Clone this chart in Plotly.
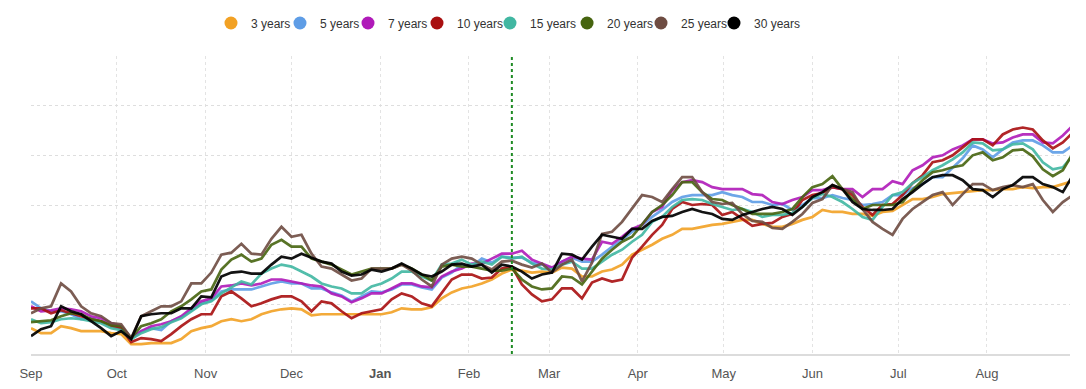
import pandas as pd
import plotly.graph_objects as go

# twice-weekly observation dates (Sep 2022 - Aug 2023)
dates = list(pd.date_range("2022-09-01", periods=105, freq="84h"))

series_names = ["3 years", "5 years", "7 years", "10 years", "15 years", "20 years", "25 years", "30 years"]
series_colors = ["#F2A124", "#5E9DE6", "#B01AB9", "#A90F10", "#41B7A2", "#46640F", "#6E4C42", "#000000"]

y3 = [26, 21, 21, 28, 26, 23, 23, 23, 21, 20, 10, 10, 11, 11, 11, 15, 23, 26, 28, 33, 35, 33, 35, 40, 43, 45,
      46, 45, 39, 40, 40, 40, 40, 40, 40, 40, 42, 46, 45, 45, 47, 56, 62, 66, 68, 71, 75, 81, 85, 84, 82, 83,
      82, 87, 86, 78, 78, 83, 85, 90, 100, 105, 110, 116, 120, 126, 126, 128, 130, 131, 133, 135, 135, 131, 128, 128, 131, 135,
      138, 145, 143, 143, 141, 141, 139, 143, 144, 150, 156, 156, 158, 161, 162, 163, 164, 165, 165, 166, 166, 168, 167, 168, 168, 171,
      174]
y5 = [53, 46, 43, 43, 40, 35, 36, 33, 28, 25, 15, 23, 26, 24, 33, 37, 44, 51, 54, 63, 65, 65, 65, 68, 71, 73,
      71, 71, 66, 66, 62, 59, 53, 58, 63, 62, 65, 70, 70, 67, 65, 77, 82, 90, 88, 96, 92, 98, 97, 97, 92, 90,
      86, 93, 97, 93, 93, 100, 108, 115, 123, 130, 138, 145, 153, 158, 160, 160, 160, 163, 160, 158, 153, 153, 150, 151, 145, 150,
      157, 157, 160, 157, 155, 150, 151, 153, 160, 160, 167, 171, 178, 178, 187, 197, 210, 206, 198, 206, 213, 215, 215, 210, 203, 203,
      210]
y7 = [48, 43, 44, 46, 45, 43, 38, 36, 31, 28, 16, 23, 28, 30, 33, 38, 46, 53, 56, 68, 69, 71, 69, 71, 75, 75,
      73, 71, 69, 68, 61, 58, 52, 56, 61, 61, 66, 71, 71, 68, 67, 78, 83, 86, 91, 91, 96, 101, 101, 104, 95, 91,
      87, 93, 98, 96, 95, 113, 111, 118, 126, 130, 143, 148, 165, 173, 175, 173, 168, 166, 166, 166, 161, 160, 153, 151, 155, 158,
      165, 165, 168, 166, 166, 158, 166, 166, 174, 171, 185, 190, 198, 200, 206, 210, 216, 216, 212, 213, 218, 221, 221, 213, 212, 220,
      230]
y10 = [46, 46, 41, 44, 41, 38, 35, 33, 28, 26, 12, 16, 15, 13, 20, 28, 35, 40, 40, 58, 63, 56, 48, 51, 55, 58,
       58, 53, 43, 53, 51, 43, 36, 41, 43, 45, 55, 61, 58, 51, 48, 61, 75, 80, 80, 76, 77, 86, 88, 70, 60, 53,
       55, 66, 66, 56, 72, 76, 73, 75, 97, 108, 120, 130, 146, 153, 150, 151, 150, 140, 143, 136, 129, 131, 132, 138, 141, 155,
       160, 162, 168, 166, 160, 148, 140, 150, 151, 160, 172, 180, 193, 195, 200, 208, 216, 216, 210, 221, 226, 228, 226, 215, 207, 213,
       223]
y15 = [35, 31, 32, 35, 36, 35, 33, 31, 26, 24, 15, 21, 25, 27, 32, 36, 43, 50, 53, 61, 67, 73, 70, 81, 86, 90,
       88, 83, 78, 71, 68, 66, 61, 61, 68, 71, 76, 83, 83, 78, 74, 90, 91, 95, 90, 93, 90, 98, 96, 98, 91, 86,
       85, 90, 93, 86, 86, 93, 100, 105, 113, 120, 133, 138, 148, 155, 156, 155, 151, 148, 145, 146, 143, 138, 140, 140, 142, 148,
       157, 161, 158, 153, 146, 138, 135, 148, 160, 163, 172, 178, 185, 190, 196, 203, 213, 212, 205, 206, 211, 212, 206, 193, 186, 188,
       200]
y20 = [32, 33, 34, 38, 41, 40, 35, 33, 29, 28, 16, 28, 31, 35, 43, 48, 55, 63, 65, 85, 95, 100, 93, 96, 110, 115,
       108, 108, 96, 93, 90, 85, 80, 83, 86, 86, 86, 90, 86, 80, 74, 88, 90, 88, 88, 86, 84, 84, 86, 75, 68, 65,
       66, 78, 77, 70, 83, 96, 105, 113, 118, 131, 143, 150, 160, 173, 173, 163, 156, 155, 150, 146, 141, 141, 141, 143, 146, 158,
       168, 171, 179, 166, 156, 146, 150, 150, 150, 153, 165, 175, 183, 185, 188, 190, 200, 203, 195, 198, 205, 206, 199, 186, 179, 185,
       202]
y25 = [41, 46, 48, 71, 63, 48, 41, 38, 31, 30, 16, 38, 43, 48, 48, 53, 71, 71, 82, 100, 102, 111, 101, 100, 116, 128,
       118, 120, 101, 88, 86, 80, 74, 76, 86, 86, 86, 90, 84, 75, 68, 90, 96, 98, 96, 90, 85, 93, 94, 90, 87, 91,
       82, 90, 95, 73, 92, 121, 123, 133, 147, 160, 158, 153, 166, 178, 178, 163, 153, 151, 152, 141, 134, 133, 127, 126, 133, 141,
       152, 156, 170, 166, 163, 146, 133, 126, 120, 136, 146, 153, 160, 163, 150, 161, 171, 171, 165, 168, 170, 168, 171, 155, 143, 153,
       160]
y30 = [18, 25, 28, 48, 43, 40, 33, 26, 18, 23, 15, 38, 40, 41, 41, 46, 46, 58, 57, 78, 82, 83, 81, 81, 90, 98,
       96, 101, 97, 93, 91, 83, 79, 80, 85, 83, 86, 91, 86, 80, 78, 83, 90, 91, 88, 90, 82, 90, 88, 83, 76, 80,
       82, 101, 100, 95, 108, 120, 118, 116, 126, 126, 134, 138, 139, 143, 146, 143, 141, 136, 135, 140, 143, 146, 148, 146, 140, 148,
       158, 163, 170, 166, 153, 146, 145, 145, 146, 156, 163, 171, 178, 180, 180, 175, 166, 165, 158, 166, 170, 178, 178, 171, 168, 163,
       180]

series_values = [y3, y5, y7, y10, y15, y20, y25, y30]

month_ticks = list(pd.date_range("2022-09-01", periods=12, freq="MS"))
month_labels = ["Sep", "Oct", "Nov", "Dec", "<b>Jan</b>", "Feb", "Mar", "Apr", "May", "Jun", "Jul", "Aug"]
marker_date = "2023-02-16"

# horizontal position (container fraction) of each legend entry
legend_x = [0.1883, 0.2523, 0.3154, 0.3794, 0.4471, 0.5186, 0.5872, 0.6549]

fig = go.Figure()
for name, color, vals in zip(series_names, series_colors, series_values):
    n = min(len(dates), len(vals))
    fig.add_trace(go.Scatter(x=dates[:n], y=vals[:n], mode="lines", name=name, legendgroup=name,
                             showlegend=False, line=dict(color=color, width=2.7),
                             opacity=0.9 if color != "#000000" else 0.92,
                             hovertemplate="%{x|%b %d}: %{y}<extra>" + name + "</extra>"))

legend_layout = {}
for i, (name, color) in enumerate(zip(series_names, series_colors)):
    key = "legend" if i == 0 else f"legend{i + 1}"
    fig.add_trace(go.Scatter(x=[None], y=[None], mode="markers", name=name, legendgroup=name,
                             legend=key, marker=dict(size=13, color=color, symbol="circle")))
    legend_layout[key] = dict(orientation="h", x=legend_x[i], xanchor="left", xref="container",
                              y=0.9606, yanchor="middle", yref="container", itemwidth=30,
                              bgcolor="rgba(0,0,0,0)", borderwidth=0,
                              font=dict(family="Liberation Sans, Arial, sans-serif", size=12, color="#333333"))

fig.add_shape(type="line", xref="x", yref="paper", x0=marker_date, x1=marker_date, y0=0, y1=1,
              line=dict(color="#1F8B24", width=2, dash="dot"))

fig.update_layout(
    width=1078, height=381,
    margin=dict(l=23, r=16, t=48, b=35, autoexpand=False),
    paper_bgcolor="white", plot_bgcolor="white",
    font=dict(family="Liberation Sans, Arial, sans-serif", size=12, color="#333333"),
    showlegend=True,
    **legend_layout,
)
fig.update_xaxes(range=["2022-09-01", "2023-08-30"], tickvals=month_ticks, ticktext=month_labels,
                 showgrid=True, gridcolor="#e3e3e3", griddash="dot", gridwidth=1,
                 showline=True, linecolor="#dcdcdc", linewidth=1.5, automargin=False,
                 ticks="outside", ticklen=4, tickcolor="rgba(0,0,0,0)", ticklabelstandoff=3,
                 tickfont=dict(size=13, color="#555555"), zeroline=False)
fig.update_yaxes(range=[0, 300], dtick=50, showticklabels=False, showgrid=True, gridcolor="#dedede",
                 griddash="dot", gridwidth=1, zeroline=False, showline=False, automargin=False)

fig.write_html("out.html")
